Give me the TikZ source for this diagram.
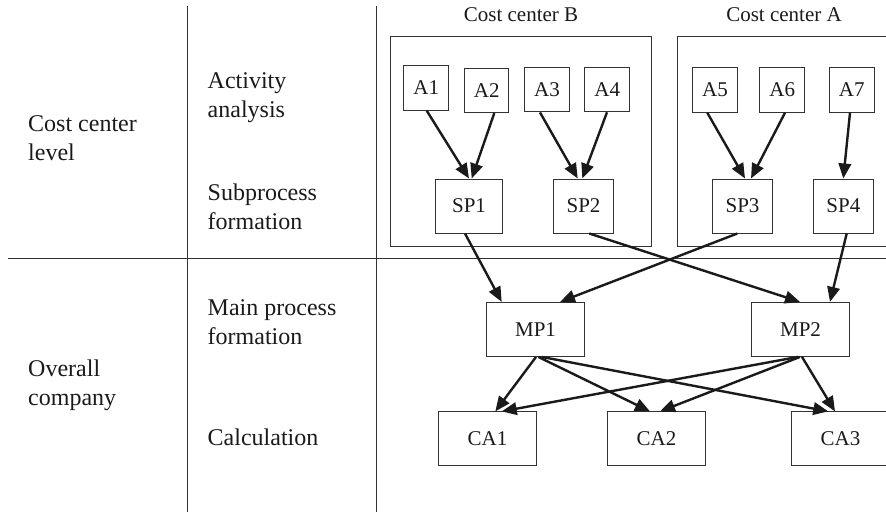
\documentclass[tikz,border=0pt]{standalone}
\usepackage{fontspec}
\setmainfont{Liberation Serif}
\usetikzlibrary{arrows.meta}
\definecolor{ink}{HTML}{1A1A1A}
\definecolor{frame}{HTML}{333333}
\begin{document}
\begin{tikzpicture}[x=1pt,y=-1pt,
  rulel/.style={draw=frame,line width=1pt},
  lbl/.style={inner sep=0pt,anchor=base west,align=left,text=ink,
    font=\fontsize{24pt}{29pt}\selectfont},
  ccbox/.style={draw=frame,line width=1pt},
  cclbl/.style={inner sep=0pt,text=ink,font=\fontsize{21pt}{24pt}\selectfont},
  abox/.style={draw=frame,line width=1pt,minimum width=44.5pt,minimum height=44.5pt,
    inner sep=0pt,text=ink,font=\fontsize{21pt}{24pt}\selectfont},
  spbox/.style={abox,minimum width=59.6pt,minimum height=54pt},
  mpbox/.style={abox,minimum width=97.8pt,minimum height=54pt},
  arr/.style={draw=ink,line width=2.4pt,-{Triangle[length=15pt,width=12.5pt]}}]
\useasboundingbox (0,0) rectangle (886,512);
\path[clip] (0,0) rectangle (886,512);

% table rules
\draw[rulel] (187,6) -- (187,512);
\draw[rulel] (376,6) -- (376,512);
\draw[rulel] (8,258.7) -- (886,258.7);

% row and step labels (anchored at the baseline of their last line)
\node[lbl] (lvlcc) at (28,160.7) {Cost center\\level};
\node[lbl] (lvlco) at (28,405.5) {Overall\\company};
\node[lbl] (stact) at (207.5,117.3) {Activity\\analysis};
\node[lbl] (stsub) at (207.5,229) {Subprocess\\formation};
\node[lbl] (stmain) at (207.5,344) {Main process\\formation};
\node[lbl] (stcalc) at (207.5,445) {Calculation};

% cost center frames
\draw[ccbox] (390.7,36.7) rectangle (651,246);
\draw[ccbox] (677.7,36.7) rectangle (890,246);
\node[cclbl] (ccb) at (521,15) {Cost center B};
\node[cclbl] (cca) at (784,15) {Cost center A};

% activities
\node[abox] (A1) at (426.2,87.9) {A1};
\node[abox] (A2) at (486.7,90.3) {A2};
\node[abox] (A3) at (547,89.7) {A3};
\node[abox] (A4) at (607.2,89.5) {A4};
\node[abox] (A5) at (715,90) {A5};
\node[abox] (A6) at (782.2,90) {A6};
\node[abox] (A7) at (851.8,90) {A7};

% subprocesses
\node[spbox,minimum width=66.6pt] (SP1) at (469,206) {SP1};
\node[spbox] (SP2) at (583.5,206) {SP2};
\node[spbox] (SP3) at (742.5,206) {SP3};
\node[spbox] (SP4) at (843.4,206) {SP4};

% main processes
\node[mpbox] (MP1) at (535.5,329.4) {MP1};
\node[mpbox] (MP2) at (800.5,329.4) {MP2};

% calculation objects
\node[mpbox] (CA1) at (487.5,438.9) {CA1};
\node[mpbox] (CA2) at (656.5,438.9) {CA2};
\node[mpbox] (CA3) at (840.5,438.9) {CA3};

% activity -> subprocess
\draw[arr] ([xshift=0.5pt]A1.south) -- ([xshift=0pt]SP1.north);
\draw[arr] ([xshift=7.6pt]A2.south) -- ([xshift=2.7pt]SP1.north);
\draw[arr] ([xshift=-7pt]A3.south) -- ([xshift=-5.8pt]SP2.north);
\draw[arr] ([xshift=-0.2pt]A4.south) -- ([xshift=-1.2pt]SP2.north);
\draw[arr] ([xshift=-7.7pt]A5.south) -- ([xshift=2.5pt]SP3.north);
\draw[arr] ([xshift=2.8pt]A6.south) -- ([xshift=8.5pt]SP3.north);
\draw[arr] ([xshift=-1.8pt]A7.south) -- ([xshift=-0.1pt]SP4.north);

% subprocess -> main process
\draw[arr] ([xshift=-4pt]SP1.south) -- ([xshift=-33.8pt]MP1.north);
\draw[arr] ([xshift=5.8pt]SP2.south) -- ([xshift=-0.5pt]MP2.north);
\draw[arr] ([xshift=-5.2pt]SP3.south) -- ([xshift=24.5pt]MP1.north);
\draw[arr] ([xshift=3.3pt]SP4.south) -- ([xshift=29.5pt]MP2.north);

% main process -> calculation
\draw[arr] ([xshift=0.5pt]MP1.south) -- ([xshift=7.8pt]CA1.north);
\draw[arr] ([xshift=2.8pt]MP1.south) -- ([xshift=-6.5pt]CA2.north);
\draw[arr] ([xshift=6.2pt]MP1.south) -- ([xshift=-12.2pt]CA3.north);
\draw[arr] ([xshift=-2.5pt]MP2.south) -- ([xshift=14.2pt]CA1.north);
\draw[arr] ([xshift=-0.5pt]MP2.south) -- ([xshift=3.5pt]CA2.north);
\draw[arr] ([xshift=1.5pt]MP2.south) -- ([xshift=-5.5pt]CA3.north);
\end{tikzpicture}
\end{document}
